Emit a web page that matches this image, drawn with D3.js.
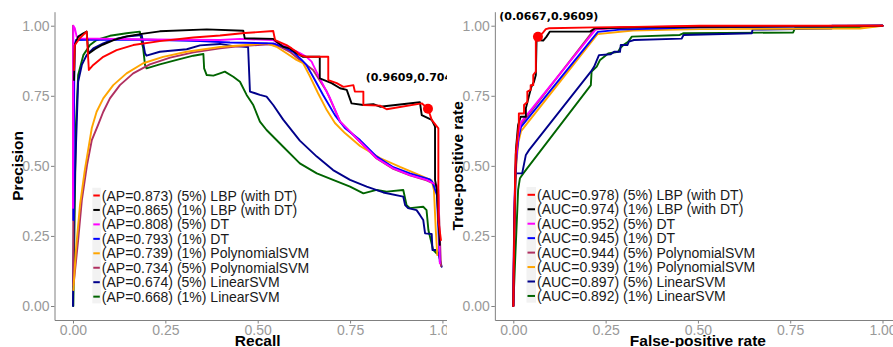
<!DOCTYPE html>
<html><head><meta charset="utf-8">
<script src="https://cdn.jsdelivr.net/npm/d3@7"></script>
<style>body{margin:0;background:#fff}svg{display:block}</style>
</head><body>
<svg id="c" width="893" height="347"></svg>
<script>
// ---------- data ----------
const tickVals = [0, 0.25, 0.5, 0.75, 1];
const seriesColors = ["#FF0000", "#000000", "#FF00FF", "#0000FF", "#FFA500", "#B03060", "#00008B", "#006400"];

// PR curves: [recall, precision]
const prLBP5 = [[0.003,0.842],[0.005,0.931],[0.019,0.956],[0.037,0.979],[0.043,0.842],[0.055,0.860],[0.082,0.889],[0.118,0.913],[0.163,0.931],[0.235,0.945],[0.326,0.958],[0.398,0.965],[0.465,0.974],[0.542,0.981],[0.547,0.949],[0.578,0.931],[0.592,0.919],[0.605,0.907],[0.614,0.895],[0.632,0.889],[0.691,0.889],[0.691,0.806],[0.714,0.795],[0.732,0.782],[0.759,0.788],[0.763,0.765],[0.786,0.765],[0.786,0.717],[0.831,0.715],[0.849,0.702],[0.944,0.723],[0.961,0.704],[0.971,0.664],[0.989,0.634],[0.989,0.307],[0.996,0.235]];
const prLBP1 = [[0.003,0.806],[0.005,0.931],[0.014,0.961],[0.028,0.973],[0.037,0.979],[0.042,0.900],[0.060,0.917],[0.080,0.932],[0.110,0.949],[0.145,0.962],[0.186,0.971],[0.235,0.980],[0.362,0.987],[0.461,0.982],[0.465,0.955],[0.542,0.953],[0.551,0.943],[0.569,0.925],[0.587,0.919],[0.605,0.902],[0.623,0.889],[0.668,0.889],[0.668,0.812],[0.700,0.795],[0.723,0.777],[0.741,0.771],[0.754,0.723],[0.786,0.717],[0.813,0.720],[0.831,0.711],[0.939,0.727],[0.944,0.681],[0.971,0.664],[0.980,0.640],[0.980,0.450],[0.985,0.414],[0.993,0.218]];
const prDT5 = [[0.000,0.350],[0.001,1.000],[0.005,0.991],[0.010,0.961],[0.019,0.955],[0.208,0.951],[0.398,0.949],[0.452,0.953],[0.541,0.949],[0.560,0.934],[0.587,0.919],[0.614,0.902],[0.632,0.889],[0.646,0.872],[0.650,0.860],[0.668,0.812],[0.696,0.741],[0.723,0.658],[0.749,0.624],[0.777,0.586],[0.822,0.527],[0.867,0.491],[0.912,0.467],[0.957,0.450],[0.975,0.438],[0.984,0.432],[0.989,0.414],[0.993,0.152]];
const prDT1 = [[0.001,0.307],[0.004,0.931],[0.008,0.949],[0.073,0.951],[0.208,0.950],[0.344,0.945],[0.425,0.940],[0.542,0.937],[0.569,0.925],[0.596,0.907],[0.619,0.878],[0.632,0.860],[0.650,0.818],[0.677,0.753],[0.709,0.681],[0.736,0.635],[0.777,0.592],[0.822,0.533],[0.867,0.495],[0.912,0.473],[0.966,0.452],[0.973,0.442],[0.985,0.396],[0.993,0.157]];
const prPoly1 = [[0.001,0.057],[0.008,0.200],[0.019,0.360],[0.032,0.485],[0.051,0.635],[0.064,0.693],[0.082,0.741],[0.109,0.788],[0.145,0.830],[0.190,0.866],[0.244,0.889],[0.308,0.907],[0.398,0.924],[0.524,0.937],[0.551,0.925],[0.578,0.902],[0.605,0.878],[0.623,0.866],[0.641,0.820],[0.663,0.760],[0.687,0.699],[0.709,0.653],[0.736,0.617],[0.777,0.571],[0.831,0.528],[0.885,0.496],[0.930,0.471],[0.971,0.448],[0.977,0.414],[0.982,0.271],[0.986,0.182]];
const prPoly5 = [[0.000,1.000],[0.001,0.075],[0.003,0.093],[0.014,0.235],[0.024,0.378],[0.038,0.503],[0.051,0.592],[0.068,0.646],[0.082,0.693],[0.100,0.741],[0.127,0.788],[0.163,0.830],[0.208,0.862],[0.263,0.886],[0.326,0.905],[0.398,0.919],[0.434,0.925],[0.533,0.934],[0.560,0.925],[0.587,0.907],[0.614,0.878],[0.650,0.842],[0.687,0.765],[0.723,0.658],[0.749,0.623],[0.777,0.585],[0.822,0.526],[0.867,0.489],[0.912,0.466],[0.957,0.448],[0.975,0.437],[0.984,0.428],[0.989,0.396],[0.996,0.143]];
const prLin5 = [[0.000,0.000],[0.001,0.164],[0.004,0.414],[0.010,0.646],[0.014,0.800],[0.024,0.860],[0.037,0.895],[0.055,0.919],[0.082,0.937],[0.109,0.951],[0.145,0.961],[0.186,0.967],[0.195,0.902],[0.199,0.893],[0.235,0.907],[0.308,0.916],[0.344,0.930],[0.398,0.935],[0.430,0.928],[0.474,0.924],[0.479,0.765],[0.493,0.759],[0.506,0.753],[0.524,0.747],[0.542,0.717],[0.569,0.665],[0.614,0.590],[0.660,0.533],[0.704,0.485],[0.750,0.450],[0.795,0.426],[0.840,0.405],[0.894,0.390],[0.899,0.360],[0.907,0.349],[0.930,0.342],[0.939,0.325],[0.948,0.307],[0.953,0.259],[0.971,0.257],[0.973,0.200],[0.984,0.200],[0.989,0.188],[0.998,0.140]];
const prLin1 = [[0.001,0.000],[0.004,0.271],[0.008,0.646],[0.014,0.824],[0.028,0.895],[0.046,0.931],[0.064,0.949],[0.100,0.964],[0.145,0.973],[0.181,0.979],[0.186,0.943],[0.190,0.919],[0.195,0.860],[0.199,0.848],[0.235,0.862],[0.281,0.878],[0.326,0.893],[0.353,0.899],[0.355,0.848],[0.362,0.824],[0.380,0.822],[0.398,0.830],[0.411,0.836],[0.434,0.818],[0.452,0.800],[0.470,0.753],[0.488,0.717],[0.506,0.658],[0.524,0.628],[0.569,0.568],[0.614,0.509],[0.660,0.473],[0.704,0.450],[0.750,0.426],[0.786,0.402],[0.822,0.414],[0.849,0.408],[0.894,0.414],[0.903,0.360],[0.912,0.349],[0.948,0.354],[0.957,0.342],[0.962,0.271],[0.975,0.200],[0.984,0.188]];

// ROC curves: [false-positive rate, true-positive rate]
const rocLBP5 = [[0,0],[0.002,0.200],[0.005,0.450],[0.0065,0.539],[0.011,0.598],[0.015,0.646],[0.015,0.687],[0.029,0.687],[0.029,0.717],[0.038,0.728],[0.038,0.765],[0.047,0.771],[0.047,0.788],[0.054,0.788],[0.054,0.824],[0.061,0.836],[0.061,0.961],[0.0667,0.9609],[0.079,0.973],[0.088,0.988],[0.097,0.991],[0.219,0.994],[0.327,0.996],[0.506,1.0],[1,1]];
const rocLBP1 = [[0,0],[0.003,0.307],[0.007,0.557],[0.013,0.646],[0.020,0.675],[0.034,0.675],[0.034,0.705],[0.043,0.753],[0.049,0.782],[0.056,0.800],[0.061,0.824],[0.063,0.949],[0.081,0.947],[0.090,0.961],[0.099,0.979],[0.208,0.979],[0.221,0.991],[0.370,0.995],[1,1]];
const rocDT5 = [[0,0],[0.002,0.271],[0.005,0.467],[0.009,0.557],[0.014,0.617],[0.021,0.656],[0.224,0.988],[0.289,0.994],[0.506,0.998],[1,1]];
const rocDT1 = [[0,0],[0.002,0.253],[0.005,0.450],[0.009,0.539],[0.014,0.599],[0.021,0.639],[0.229,0.978],[0.289,0.986],[0.506,0.994],[1,1]];
const rocPoly5 = [[0,0],[0.002,0.264],[0.005,0.460],[0.009,0.550],[0.014,0.610],[0.021,0.649],[0.219,0.986],[0.289,0.993],[0.506,0.997],[1,1]];
const rocPoly1 = [[0,0],[0.002,0.235],[0.005,0.432],[0.009,0.521],[0.014,0.585],[0.021,0.624],[0.228,0.970],[0.324,0.983],[0.506,0.988],[0.939,0.990],[1,1]];
const rocLin5 = [[0,0],[0.003,0.271],[0.0065,0.473],[0.024,0.473],[0.034,0.539],[0.043,0.557],[0.210,0.836],[0.219,0.854],[0.232,0.895],[0.264,0.898],[0.273,0.907],[0.289,0.907],[0.291,0.931],[0.309,0.931],[0.313,0.943],[0.327,0.949],[0.456,0.954],[0.461,0.967],[0.646,0.973],[0.648,0.986],[0.862,0.990],[0.863,1.0],[1,1]];
const rocLin1 = [[0,0],[0.005,0.164],[0.011,0.349],[0.013,0.414],[0.018,0.456],[0.027,0.473],[0.210,0.788],[0.212,0.836],[0.226,0.854],[0.235,0.878],[0.257,0.901],[0.284,0.907],[0.289,0.919],[0.298,0.931],[0.311,0.943],[0.321,0.961],[0.451,0.967],[0.460,0.973],[0.758,0.976],[0.763,0.991],[0.939,0.995],[1,1]];

const apLabels = ["(AP=0.873) (5%) LBP (with DT)", "(AP=0.865) (1%) LBP (with DT)", "(AP=0.808) (5%) DT", "(AP=0.793) (1%) DT", "(AP=0.739) (1%) PolynomialSVM", "(AP=0.734) (5%) PolynomialSVM", "(AP=0.674) (5%) LinearSVM", "(AP=0.668) (1%) LinearSVM"];
const apColors = ["#FF0000", "#000000", "#FF00FF", "#0000FF", "#FFA500", "#B03060", "#00008B", "#006400"];
const aucLabels = ["(AUC=0.978) (5%) LBP (with DT)", "(AUC=0.974) (1%) LBP (with DT)", "(AUC=0.952) (5%) DT", "(AUC=0.945) (1%) DT", "(AUC=0.944) (5%) PolynomialSVM", "(AUC=0.939) (1%) PolynomialSVM", "(AUC=0.897) (5%) LinearSVM", "(AUC=0.892) (1%) LinearSVM"];
const aucColors = ["#FF0000", "#000000", "#FF00FF", "#0000FF", "#B03060", "#FFA500", "#00008B", "#006400"];

const prSeries = [prLBP5, prLBP1, prDT5, prDT1, prPoly1, prPoly5, prLin5, prLin1];
const rocSeries = [rocLBP5, rocLBP1, rocDT5, rocDT1, rocPoly5, rocPoly1, rocLin5, rocLin1];

const prMark = [0.9609, 0.704];
const rocMark = [0.0667, 0.9609];
const prMarkLabel = "(0.9609,0.704)";
const rocMarkLabel = "(0.0667,0.9609)";

// ---------- drawing ----------
const svg = d3.select("#c");
const FONT = "'Liberation Sans', Arial, Helvetica, sans-serif";

svg.append("defs").append("clipPath").attr("id", "clipL")
  .append("rect").attr("x", 0).attr("y", 0).attr("width", 447).attr("height", 347);

function panel(cfg) {
  const g = svg.append("g");
  if (cfg.clip) g.attr("clip-path", "url(#" + cfg.clip + ")");
  const x = d3.scaleLinear().domain([-0.05, 1.05]).range(cfg.xr);
  const y = d3.scaleLinear().domain([-0.05, 1.05]).range([320, 11.7]);

  // axes
  const ya = g.append("g").attr("transform", `translate(${x(-0.05)},0)`)
    .call(d3.axisLeft(y).tickValues(tickVals).tickFormat(d3.format(".2f")).tickSize(3.5).tickSizeOuter(0).tickPadding(1.5));
  const xa = g.append("g").attr("transform", `translate(0,${y(-0.05)})`)
    .call(d3.axisBottom(x).tickValues(tickVals).tickFormat(d3.format(".2f")).tickSize(3.5).tickSizeOuter(0).tickPadding(1.5));
  [ya, xa].forEach(a => {
    a.select(".domain").attr("stroke", "#808080").attr("stroke-width", 1);
    a.selectAll(".tick line").attr("stroke", "#808080");
    a.selectAll(".tick text").attr("fill", "#999999").style("font-size", "14px").style("font-family", FONT);
  });

  // lines (reverse legend order so first entry is on top)
  const line = d3.line().x(d => x(d[0])).y(d => y(d[1]));
  const idx = d3.range(cfg.series.length).reverse();
  g.append("g").selectAll("path").data(idx).join("path")
    .attr("d", i => line(cfg.series[i]))
    .attr("fill", "none")
    .attr("stroke", i => cfg.colors[i])
    .attr("stroke-width", 1.9)
    .attr("stroke-linejoin", "round")
    .attr("stroke-linecap", "round");

  // marker point + label
  g.append("circle").attr("cx", x(cfg.mark[0])).attr("cy", y(cfg.mark[1])).attr("r", 5).attr("fill", "#FF0000");
  g.append("text").attr("x", x(cfg.mark[0]) + cfg.markDx).attr("y", y(cfg.mark[1]) + cfg.markDy)
    .attr("font-family", "'DejaVu Sans', sans-serif").attr("font-weight", "bold").attr("font-size", "11px")
    .attr("fill", "#000").text(cfg.markLabel);

  // axis titles
  g.append("text").attr("x", (x(0) + x(1)) / 2).attr("y", 346)
    .attr("text-anchor", "middle").attr("font-family", FONT).attr("font-weight", "bold")
    .attr("font-size", "15.5px").attr("fill", "#000").text(cfg.xTitle);
  g.append("text").attr("transform", `translate(${cfg.yTitleX},${(y(0) + y(1)) / 2}) rotate(-90)`)
    .attr("text-anchor", "middle").attr("font-family", FONT).attr("font-weight", "bold")
    .attr("font-size", "15.5px").attr("fill", "#000").text(cfg.yTitle);

  // legend
  const lg = g.append("g");
  const rowH = 14.45;
  lg.append("rect").attr("x", cfg.legX - 1).attr("y", cfg.legY - rowH / 2 - 0.5)
    .attr("width", cfg.keyW + 2).attr("height", rowH * cfg.labels.length).attr("fill", "#F2F2F2");
  cfg.labels.forEach((lab, i) => {
    const cy = cfg.legY + i * rowH;
    lg.append("line").attr("x1", cfg.legX).attr("x2", cfg.legX + cfg.keyW)
      .attr("y1", cy).attr("y2", cy).attr("stroke", cfg.colors[i]).attr("stroke-width", 2);
    lg.append("text").attr("x", cfg.legX + cfg.keyW + 2).attr("y", cy).attr("dy", "0.36em")
      .attr("font-family", FONT).attr("font-size", "14px").attr("fill", "#1a1a1a").text(lab);
  });
}

panel({
  clip: "clipL", xr: [54.5, 460.9], series: prSeries, colors: apColors, labels: apLabels,
  mark: prMark, markLabel: prMarkLabel, markDx: -62.3, markDy: -27.2,
  xTitle: "Recall", yTitle: "Precision", yTitleX: 23,
  legX: 93.3, legY: 195.5, keyW: 6.5
});
panel({
  clip: null, xr: [494.85, 900.97], series: rocSeries, colors: aucColors, labels: aucLabels,
  mark: rocMark, markLabel: rocMarkLabel, markDx: -38.7, markDy: -16.5,
  xTitle: "False-positive rate", yTitle: "True-positive rate", yTitleX: 462.8,
  legX: 527.5, legY: 194.8, keyW: 7.5
});
</script>
</body></html>
